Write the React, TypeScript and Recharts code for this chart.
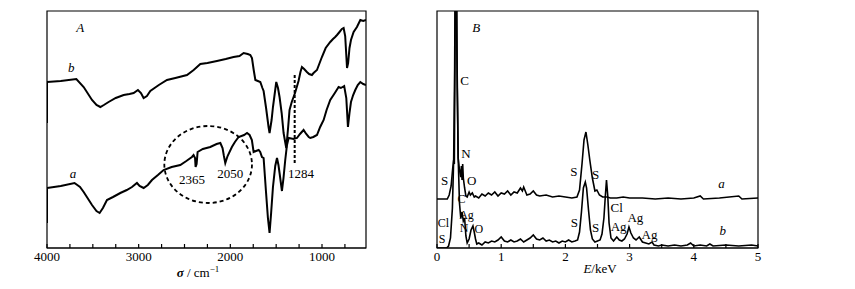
import {
  LineChart,
  Line,
  XAxis,
  YAxis,
  ReferenceDot,
  ReferenceArea,
  ReferenceLine,
} from "recharts";

const FONT = '"Liberation Serif", "DejaVu Serif", serif';

// panel A: IR spectra, [wavenumber cm-1, transmittance (arb.)]
const IR_B = [
  [4000, 125], [4000, 166], [3850, 167], [3680, 169], [3600, 161], [3509, 148], [3460, 143],
  [3418, 141], [3380, 143], [3328, 146], [3250, 150], [3164, 153], [3100, 154], [3055, 155],
  [3008, 158], [2975, 155], [2946, 150], [2910, 152], [2873, 157], [2780, 163], [2691, 168],
  [2600, 170], [2473, 173], [2400, 178], [2327, 184], [2250, 185], [2146, 187], [2050, 189],
  [1965, 191], [1900, 192], [1855, 195], [1810, 194], [1782, 193], [1764, 190], [1745, 178],
  [1727, 168], [1700, 167], [1673, 166], [1650, 160], [1637, 157], [1610, 140], [1583, 121],
  [1572, 115], [1550, 128], [1535, 141], [1499, 166], [1480, 160], [1463, 151], [1440, 135],
  [1419, 115], [1390, 100], [1370, 120], [1354, 138], [1330, 146], [1310, 151], [1291, 156],
  [1256, 167], [1235, 176], [1219, 181], [1195, 179], [1165, 176], [1140, 174], [1110, 173],
  [1092, 175], [1055, 178], [1030, 184], [1001, 191], [960, 200], [910, 206], [880, 209],
  [856, 211], [836, 213], [809, 216], [783, 219], [764, 220], [747, 212], [727, 180],
  [715, 185], [700, 200], [684, 208], [655, 216], [619, 221], [582, 228], [550, 227], [520, 228],
];

const IR_A = [
  [4000, 25], [4000, 60], [3850, 62], [3700, 65], [3640, 61], [3600, 56], [3509, 43], [3460, 37],
  [3426, 35], [3390, 40], [3346, 48], [3280, 51], [3200, 55], [3130, 58], [3073, 61], [3019, 65],
  [2990, 62], [2946, 60], [2900, 63], [2855, 68], [2790, 73], [2728, 78], [2640, 81], [2546, 83],
  [2480, 87], [2419, 91], [2401, 93], [2385, 90], [2379, 81], [2368, 84], [2357, 96], [2300, 99],
  [2219, 101], [2150, 104], [2109, 105], [2085, 100], [2070, 92], [2055, 85], [2030, 92],
  [1983, 101], [1950, 106], [1910, 111], [1850, 113], [1818, 115], [1790, 113], [1765, 108],
  [1746, 96], [1720, 97], [1691, 98], [1674, 96], [1655, 91], [1637, 90], [1610, 55], [1590, 30],
  [1572, 15], [1555, 35], [1535, 61], [1510, 82], [1491, 90], [1475, 83], [1463, 75], [1437, 57],
  [1420, 70], [1401, 88], [1382, 103], [1364, 110], [1310, 109], [1273, 110], [1240, 114],
  [1201, 118], [1172, 114], [1145, 111], [1128, 110], [1095, 111], [1055, 113], [1020, 121],
  [982, 128], [950, 138], [910, 148], [860, 155], [819, 161], [794, 160], [758, 162], [735, 150],
  [717, 121], [700, 135], [684, 146], [660, 153], [637, 158], [610, 163], [582, 166], [550, 164],
  [520, 163],
];

const IR_DOMAIN = [520, 4000];
const IR_TICKS = [4000, 3750, 3500, 3250, 3000, 2750, 2500, 2250, 2000, 1750, 1500, 1250, 1000, 750];
const IR_MARK = 1298; // dotted marker for the 1284 band

// panel B: EDS spectra, [energy keV, counts (arb.)]
const EDS_A = [
  [0, 49], [0.16, 49], [0.19, 53], [0.22, 62], [0.245, 80], [0.26, 88], [0.27, 84], [0.28, 190],
  [0.29, 300], [0.3, 300], [0.315, 160], [0.33, 90], [0.35, 78], [0.37, 71], [0.38, 82], [0.39, 68],
  [0.4, 84], [0.41, 70], [0.43, 60], [0.45, 52], [0.47, 51], [0.5, 56], [0.52, 53], [0.55, 55],
  [0.58, 51], [0.6, 52], [0.65, 50], [0.7, 54], [0.75, 52], [0.8, 55], [0.85, 53], [0.9, 56],
  [0.95, 52], [1.0, 55], [1.05, 54], [1.1, 57], [1.15, 53], [1.2, 56], [1.25, 55], [1.3, 60],
  [1.33, 57], [1.35, 61], [1.4, 53], [1.45, 54], [1.5, 57], [1.55, 53], [1.6, 52], [1.7, 53],
  [1.8, 51], [1.9, 52], [2.0, 51], [2.1, 50], [2.18, 51], [2.22, 58], [2.26, 85], [2.29, 108],
  [2.32, 116], [2.35, 103], [2.38, 88], [2.42, 70], [2.46, 57], [2.49, 58], [2.53, 53], [2.58, 51],
  [2.65, 51], [2.7, 50], [2.8, 50], [2.9, 51], [3.0, 50], [3.2, 50], [3.4, 49], [3.6, 50],
  [3.8, 49], [4.0, 50], [4.1, 52], [4.15, 49], [4.4, 50], [4.7, 52], [4.75, 49], [5.0, 50],
];

const EDS_B = [
  [0, 0], [0.15, 0], [0.18, 2], [0.21, 10], [0.24, 40], [0.26, 90], [0.275, 180], [0.285, 300],
  [0.3, 300], [0.31, 200], [0.33, 90], [0.35, 45], [0.37, 30], [0.39, 36], [0.41, 27], [0.43, 30],
  [0.45, 12], [0.47, 5], [0.5, 9], [0.53, 18], [0.56, 22], [0.58, 16], [0.6, 9], [0.62, 4],
  [0.65, 5], [0.7, 3], [0.75, 6], [0.8, 5], [0.85, 7], [0.9, 6], [0.95, 8], [1.0, 11], [1.05, 7],
  [1.1, 6], [1.15, 8], [1.2, 6], [1.25, 7], [1.3, 9], [1.35, 6], [1.4, 8], [1.45, 10], [1.5, 13],
  [1.55, 9], [1.6, 8], [1.65, 10], [1.7, 7], [1.75, 8], [1.8, 6], [1.85, 7], [1.9, 5], [1.95, 7],
  [2.0, 6], [2.05, 8], [2.1, 6], [2.15, 7], [2.19, 8], [2.22, 16], [2.25, 36], [2.28, 60],
  [2.31, 66], [2.33, 60], [2.36, 38], [2.39, 18], [2.42, 9], [2.46, 6], [2.5, 7], [2.54, 8],
  [2.57, 14], [2.6, 30], [2.62, 50], [2.64, 68], [2.66, 52], [2.68, 25], [2.71, 10], [2.75, 7],
  [2.8, 11], [2.84, 8], [2.88, 7], [2.92, 9], [2.96, 14], [2.99, 21], [3.02, 15], [3.06, 10],
  [3.1, 8], [3.15, 11], [3.2, 6], [3.25, 5], [3.3, 4], [3.35, 6], [3.38, 3], [3.45, 2], [3.5, 3],
  [3.6, 2], [3.7, 3], [3.8, 2], [3.9, 3], [3.95, 5], [4.0, 2], [4.1, 3], [4.2, 2], [4.25, 4],
  [4.3, 2], [4.5, 3], [4.7, 2], [4.9, 3], [5.0, 2],
];

const EDS_DOMAIN = [0, 5];
const EDS_TICKS = [0, 0.5, 1, 1.5, 2, 2.5, 3, 3.5, 4, 4.5, 5];
const Y_DOMAIN = [0, 237];

// annotations: [x, y, text, italic, fontSize]
const NOTES_A: [number, number, string, boolean, number][] = [
  [3637, 221, "A", true, 13],
  [3735, 181, "b", true, 13],
  [3716, 75, "a", true, 13],
  [2418, 69, "2365", false, 13],
  [2000, 75, "2050", false, 13],
  [1228, 75, "1284", false, 13],
];

const NOTES_B: [number, number, string, boolean, number][] = [
  [0.61, 221, "B", true, 13],
  [0.43, 168, "C", false, 13],
  [0.45, 95, "N", false, 13],
  [0.12, 68, "S", false, 13],
  [0.54, 68, "O", false, 13],
  [4.43, 65, "a", true, 13],
  [2.13, 77, "S", false, 13],
  [2.47, 74, "S", false, 13],
  [0.38, 49, "C", false, 12],
  [0.46, 33, "Ag", false, 12],
  [0.1, 25, "Cl", false, 12],
  [0.42, 20, "N", false, 12],
  [0.65, 19, "O", false, 12],
  [0.08, 9, "S", false, 12],
  [2.14, 26, "S", false, 13],
  [2.47, 21, "S", false, 13],
  [2.8, 41, "Cl", false, 13],
  [2.83, 22, "Ag", false, 13],
  [3.09, 31, "Ag", false, 13],
  [3.31, 14, "Ag", false, 13],
  [4.45, 18, "b", true, 13],
];

const pts = (arr: number[][]) => arr.map(([x, y]) => ({ x, y }));

const AXIS = { stroke: "#000", strokeWidth: 1.2 };
const TICK = { fill: "#000", fontSize: 13, fontFamily: FONT };

function note(n: [number, number, string, boolean, number], i: number) {
  return (
    <ReferenceDot
      key={i}
      x={n[0]}
      y={n[1]}
      r={0}
      fill="none"
      stroke="none"
      label={{
        value: n[2],
        position: "center",
        fill: "#000",
        fontSize: n[4],
        fontFamily: FONT,
        fontStyle: n[3] ? "italic" : "normal",
      }}
    />
  );
}

const ellipse = (p: any) => (
  <ellipse
    cx={p.x + p.width / 2}
    cy={p.y + p.height / 2}
    rx={Math.abs(p.width) / 2}
    ry={Math.abs(p.height) / 2}
    fill="none"
    stroke="#000"
    strokeWidth={1.8}
    strokeDasharray="4 3"
  />
);

export default function App() {
  return (
    <div style={{ position: "absolute", left: 0, top: 0, width: 855, height: 289, background: "#fff", fontFamily: FONT }}>
      <div style={{ position: "absolute", left: 0, top: 0 }}>
        <LineChart width={380} height={289} margin={{ top: 11, right: 14, bottom: 11, left: 47 }}>
          <XAxis
            dataKey="x"
            type="number"
            domain={IR_DOMAIN}
            reversed
            allowDataOverflow
            ticks={IR_TICKS}
            interval={0}
            tickFormatter={(v: number) => (v % 1000 === 0 ? String(v) : "")}
            tickSize={-4}
            tickMargin={8}
            tick={TICK}
            tickLine={AXIS}
            axisLine={AXIS}
            height={30}
          />
          <YAxis type="number" domain={Y_DOMAIN} allowDataOverflow hide />
          <ReferenceArea
            x1={IR_DOMAIN[0]}
            x2={IR_DOMAIN[1]}
            y1={Y_DOMAIN[0]}
            y2={Y_DOMAIN[1]}
            fill="none"
            stroke="#000"
            strokeWidth={1.2}
            ifOverflow="visible"
          />
          <Line data={pts(IR_B)} dataKey="y" type="linear" dot={false} stroke="#000" strokeWidth={2} isAnimationActive={false} />
          <Line data={pts(IR_A)} dataKey="y" type="linear" dot={false} stroke="#000" strokeWidth={2} isAnimationActive={false} />
          <ReferenceArea x1={2720} x2={1764} y1={45} y2={122} shape={ellipse} />
          <ReferenceLine
            segment={[{ x: IR_MARK, y: 85 }, { x: IR_MARK, y: 173 }]}
            stroke="#000"
            strokeWidth={2}
            strokeDasharray="3 2"
          />
          {NOTES_A.map(note)}
        </LineChart>
      </div>
      <div style={{ position: "absolute", left: 390, top: 0 }}>
        <LineChart width={390} height={289} margin={{ top: 11, right: 22, bottom: 11, left: 47 }}>
          <XAxis
            dataKey="x"
            type="number"
            domain={EDS_DOMAIN}
            allowDataOverflow
            ticks={EDS_TICKS}
            interval={0}
            tickFormatter={(v: number) => (Number.isInteger(v) ? String(v) : "")}
            tickSize={-4}
            tickMargin={8}
            tick={TICK}
            tickLine={AXIS}
            axisLine={AXIS}
            height={30}
          />
          <YAxis type="number" domain={Y_DOMAIN} allowDataOverflow hide />
          <ReferenceArea
            x1={EDS_DOMAIN[0]}
            x2={EDS_DOMAIN[1]}
            y1={Y_DOMAIN[0]}
            y2={Y_DOMAIN[1]}
            fill="none"
            stroke="#000"
            strokeWidth={1.2}
            ifOverflow="visible"
          />
          <Line data={pts(EDS_A)} dataKey="y" type="linear" dot={false} stroke="#000" strokeWidth={1.6} isAnimationActive={false} />
          <Line data={pts(EDS_B)} dataKey="y" type="linear" dot={false} stroke="#000" strokeWidth={1.6} isAnimationActive={false} />
          {NOTES_B.map(note)}
        </LineChart>
      </div>
      <div style={{ position: "absolute", left: 148, top: 261, width: 100, textAlign: "center", fontSize: 13, lineHeight: "16px", color: "#000" }}>
        <b><i>σ</i></b> / cm<sup style={{ fontSize: 9 }}>−1</sup>
      </div>
      <div style={{ position: "absolute", left: 550, top: 261, width: 100, textAlign: "center", fontSize: 13, lineHeight: "16px", color: "#000" }}>
        <i>E</i>/keV
      </div>
    </div>
  );
}
